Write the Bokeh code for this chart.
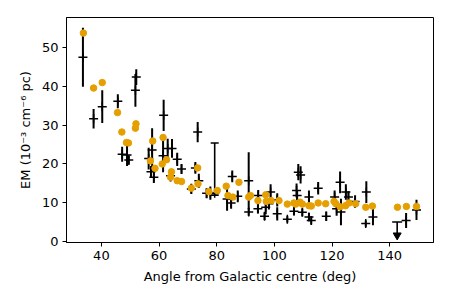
from bokeh.plotting import figure
from bokeh.models import Range1d, FixedTicker
from bokeh.embed import file_html
from bokeh.resources import INLINE

# ---- data ----
model_x = [33.75, 37.3, 40.3, 45.6, 47.1, 48.7, 49.4, 51.8, 52.0, 57.0, 57.8, 58.6, 61.1, 61.4, 62.6,
           64.0, 64.3, 66.3, 67.8, 71.2, 73.4, 73.5, 77.3, 80.2, 83.3, 83.9, 85.6, 87.7, 91.1, 91.7,
           94.3, 97.0, 97.2, 98.9, 101.6, 104.5, 106.8, 107.4, 108.9, 109.7, 112.0, 112.8, 115.2,
           117.8, 120.7, 121.3, 122.8, 124.7, 125.9, 128.2, 131.7, 134.0, 142.7, 145.8, 149.3]
model_y = [53.6, 39.5, 40.9, 33.2, 28.2, 25.5, 25.4, 29.2, 30.3, 20.8, 25.9, 18.9, 20.0, 26.8, 21.1,
           16.6, 18.0, 15.7, 15.5, 13.8, 19.0, 14.9, 12.9, 13.2, 14.3, 11.9, 11.5, 15.3, 11.5, 11.9,
           10.6, 12.1, 10.4, 10.6, 10.6, 9.7, 10.0, 9.7, 10.2, 9.7, 9.3, 9.2, 10.0,
           9.8, 10.4, 9.8, 9.0, 9.3, 10.0, 9.8, 8.9, 9.2, 8.9, 9.1, 9.1]

obs_x = [33.6, 37.3, 40.3, 45.7, 47.2, 48.9, 49.5, 51.8, 52.1, 56.4, 57.6, 57.2, 58.2, 61.6, 61.4,
         63.0, 64.5, 66.3, 67.8, 64.0, 73.4, 72.6, 73.8, 71.2, 76.5, 77.8, 83.6, 85.4, 87.3, 85.0,
         91.1, 91.1, 94.4, 94.3, 97.0, 96.6, 98.7, 98.1, 101.0, 101.0, 104.5, 108.3, 109.1, 107.7,
         107.9, 106.8, 109.7, 112.0, 112.0, 112.8, 115.2, 118.0, 120.9, 121.6, 122.8, 123.1, 124.8,
         125.7, 128.0, 131.9, 134.2, 131.7, 145.7, 149.3]
obs_y = [47.4, 31.6, 34.7, 36.1, 22.5, 22.3, 21.0, 38.9, 42.3, 21.4, 23.6, 18.0, 16.6, 32.5, 22.1,
         24.0, 24.0, 21.2, 18.7, 17.0, 28.2, 19.0, 15.7, 13.6, 12.5, 12.5, 11.0, 16.8, 11.7, 10.0,
         15.7, 7.7, 11.9, 8.5, 8.9, 6.6, 12.8, 9.8, 10.8, 7.2, 5.8, 17.9, 17.2, 13.2,
         11.9, 7.9, 7.6, 11.5, 6.4, 5.5, 13.8, 6.6, 11.5, 8.5, 15.3, 7.7, 12.8,
         11.5, 10.4, 12.8, 6.4, 4.7, 5.5, 8.2]
obs_err = [7.6, 2.5, 4.2, 1.8, 1.9, 2.8, 1.2, 4.2, 2.0, 2.8, 5.6, 1.5, 1.5, 4.0, 4.2,
           2.5, 2.4, 1.7, 1.3, 1.5, 2.6, 1.5, 1.8, 1.3, 1.3, 1.7, 3.0, 1.5, 1.5, 1.5,
           7.3, 1.0, 1.4, 1.2, 1.8, 1.0, 2.0, 1.5, 1.7, 1.7, 0.8, 2.1, 2.2, 1.8,
           1.2, 1.0, 1.0, 1.7, 1.0, 1.0, 1.6, 1.2, 1.7, 1.8, 2.8, 3.4, 2.0,
           1.5, 1.6, 2.8, 2.1, 0.8, 1.9, 2.6]

# one point with capped, asymmetric error bar
cap_x = [79.3]
cap_y = [12.5]
cap_lo = [12.0]
cap_hi = [25.4]

# upper limit
ul_x = [142.6]
ul_y = [5.1]
ul_tip = [1.7]

x_ticks = [40, 60, 80, 100, 120, 140]
y_ticks = [0, 10, 20, 30, 40, 50]

ORANGE = "#E69F00"
FONT = "DejaVu Sans"

p = figure(width=450, height=300, output_backend="svg", toolbar_location=None,
           x_range=Range1d(27.9, 155.2), y_range=Range1d(-0.15, 57.6),
           min_border_left=66, min_border_right=17, min_border_top=17, min_border_bottom=58,
           x_axis_label="Angle from Galactic centre (deg)",
           y_axis_label="EM (10\u207b\u00b3 cm\u207b\u2076 pc)")

p.grid.visible = False
p.outline_line_color = "black"
p.outline_line_width = 1
p.outline_line_alpha = 1

for ax in (p.xaxis[0], p.yaxis[0]):
    ax.axis_line_color = "black"
    ax.major_tick_line_color = "black"
    ax.major_tick_out = 4
    ax.major_tick_in = 0
    ax.minor_tick_line_color = None
    ax.major_label_text_font = FONT
    ax.major_label_text_font_size = "13px"
    ax.major_label_text_color = "black"
    ax.axis_label_text_font = FONT
    ax.axis_label_text_font_size = "13px"
    ax.axis_label_text_font_style = "normal"
    ax.axis_label_text_color = "black"
    ax.major_label_standoff = 4
    ax.axis_label_standoff = 6

p.xaxis.ticker = FixedTicker(ticks=x_ticks)
p.yaxis.ticker = FixedTicker(ticks=y_ticks)

# observed points: error bars + '+' markers
y0 = [y - e for y, e in zip(obs_y, obs_err)]
y1 = [y + e for y, e in zip(obs_y, obs_err)]
p.segment(x0=obs_x, y0=y0, x1=obs_x, y1=y1, line_color="black", line_width=2)
p.scatter(x=obs_x, y=obs_y, marker="cross", size=9, line_color="black", line_width=1.5)

# capped error bar
p.segment(x0=cap_x, y0=cap_lo, x1=cap_x, y1=cap_hi, line_color="black", line_width=1.6)
p.scatter(x=cap_x + cap_x, y=cap_lo + cap_hi, marker="dash", size=8, line_color="black", line_width=1.6)
p.scatter(x=cap_x, y=cap_y, marker="cross", size=9, line_color="black", line_width=1.5)

# upper limit arrow
p.segment(x0=ul_x, y0=ul_y, x1=ul_x, y1=ul_tip, line_color="black", line_width=1.6)
p.scatter(x=ul_x, y=ul_y, marker="dash", size=10, line_color="black", line_width=1.6)
p.scatter(x=ul_x, y=ul_tip, marker="inverted_triangle", size=8, fill_color="black", line_color="black")

# model points
p.scatter(x=model_x, y=model_y, marker="circle", size=6.5, fill_color=ORANGE, line_color=ORANGE)

open("out.html", "w").write(file_html(p, INLINE))
